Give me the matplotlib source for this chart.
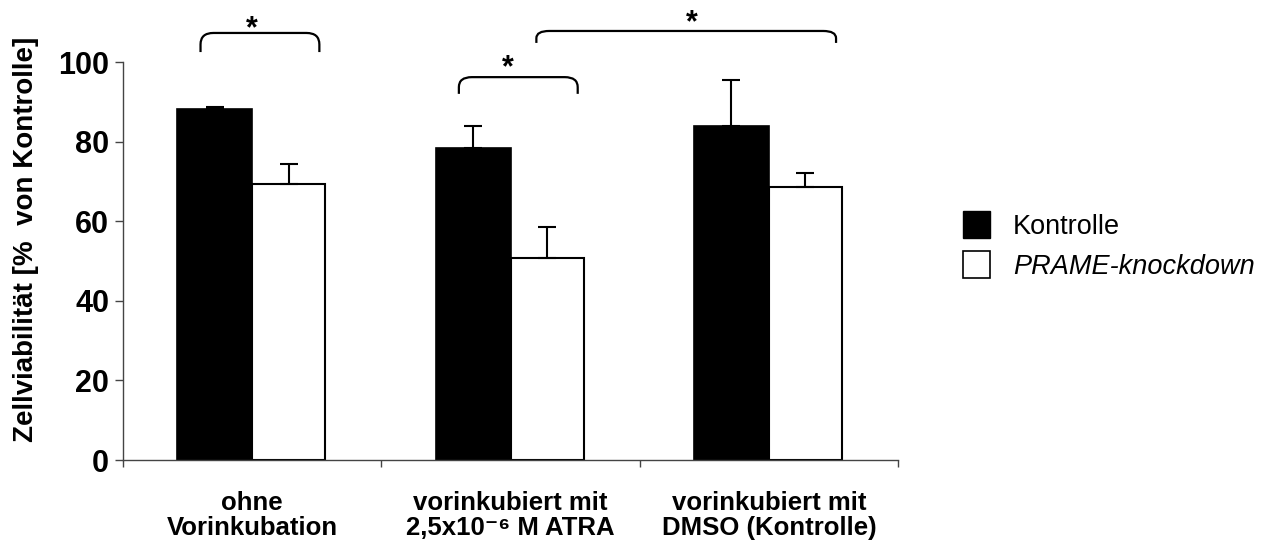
import numpy as np
import matplotlib
matplotlib.use('Agg')
import matplotlib.pyplot as plt
from matplotlib.patches import Patch, PathPatch
from matplotlib.path import Path

plt.rcParams['font.family'] = ['Liberation Sans', 'DejaVu Sans']

categories = ['ohne\nVorinkubation',
              'vorinkubiert mit\n2,5x10\u207b\u2076 M ATRA',
              'vorinkubiert mit\nDMSO (Kontrolle)']
series_names = ['Kontrolle', 'PRAME-knockdown']
kontrolle = [88.3, 78.4, 84.0]
kontrolle_err = [0.4, 5.6, 11.5]
knockdown = [69.3, 50.8, 68.6]
knockdown_err = [5.1, 7.8, 3.6]
yticks = [0, 20, 40, 60, 80, 100]

# significance brackets: (x0, x1, top, bottom)
brackets = [(-0.20, 0.26, 107.3, 102.5),
            (0.80, 1.26, 96.2, 92.0),
            (1.10, 2.26, 107.8, 104.8)]
# star positions (baseline)
star_pos = [(0.0, 106.3), (0.99, 96.4), (1.70, 107.8)]

fig = plt.figure(figsize=(12.67, 5.44), dpi=100)
ax = fig.add_axes([0.0971, 0.1544, 0.6117, 0.7316])

x = np.arange(len(categories))
w = 0.29
ax.bar(x - w, kontrolle, w, align='edge', color='black', edgecolor='black', linewidth=1.2)
ax.bar(x, knockdown, w * 0.975, align='edge', color='white', edgecolor='black', linewidth=1.5)
ax.errorbar(x - w / 2, kontrolle, yerr=[np.zeros(3), kontrolle_err], fmt='none',
            ecolor='black', elinewidth=1.5, capsize=6.5, capthick=1.5)
ax.errorbar(x + w * 0.975 / 2, knockdown, yerr=[np.zeros(3), knockdown_err], fmt='none',
            ecolor='black', elinewidth=1.5, capsize=6.5, capthick=1.5)

ax.set_xlim(-0.5, 2.5)
ax.set_ylim(0, 100)
ax.set_yticks(yticks)
ax.set_yticklabels([str(v) for v in yticks], fontsize=22, fontweight='bold')
ax.set_xticks(x)
ax.set_xticklabels(categories, fontsize=18.5, fontweight='bold', linespacing=1.1)
ax.set_xticks([-0.5, 0.5, 1.5, 2.5], minor=True)
ax.tick_params(axis='x', which='major', length=0, pad=22)
ax.tick_params(axis='x', which='minor', length=5, width=1, color='#444444')
ax.tick_params(axis='y', length=6, width=1, color='#444444', pad=4)
for side in ['top', 'right']:
    ax.spines[side].set_visible(False)
for side in ['left', 'bottom']:
    ax.spines[side].set_color('#444444')
    ax.spines[side].set_linewidth(1.0)

ax.set_ylabel('Zellviabilität [%  von Kontrolle]', fontsize=20, fontweight='bold')
ax.yaxis.set_label_coords(-0.1085, 0.555)

# brackets with rounded corners
for x0, x1, top, bot in brackets:
    rx = 0.05
    verts = [(x0, bot), (x0, top - (top - bot) * 0.6), (x0, top), (x0 + rx, top),
             (x1 - rx, top), (x1, top), (x1, top - (top - bot) * 0.6), (x1, bot)]
    codes = [Path.MOVETO, Path.LINETO, Path.CURVE3, Path.CURVE3,
             Path.LINETO, Path.CURVE3, Path.CURVE3, Path.LINETO]
    ax.add_patch(PathPatch(Path(verts, codes), fill=False, lw=1.6,
                           edgecolor='black', clip_on=False))
for sx, sy in star_pos:
    ax.text(sx, sy, '*', ha='center', va='baseline', fontsize=22,
            fontweight='bold', clip_on=False)

handles = [Patch(facecolor='black', edgecolor='black'),
           Patch(facecolor='white', edgecolor='black', linewidth=1.2)]
leg = fig.legend(handles, series_names, loc='upper left', bbox_to_anchor=(0.760, 0.612),
                 frameon=False, fontsize=19.5, handlelength=1.0, handleheight=1.15,
                 handletextpad=0.85, labelspacing=0.42, borderpad=0, borderaxespad=0)
leg.get_texts()[1].set_fontstyle('italic')

fig.savefig('out.png', dpi=100)
